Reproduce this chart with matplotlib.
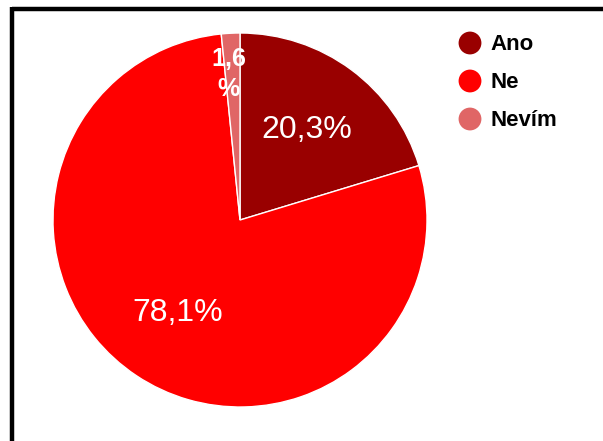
import matplotlib.pyplot as plt
from matplotlib.lines import Line2D

# Data
labels = ["Ano", "Ne", "Nevím"]
shares = [20.3, 78.1, 1.6]
colors = ["#990000", "#ff0000", "#e06666"]

W, H = 603, 441

plt.rcParams["font.family"] = ["Liberation Sans", "DejaVu Sans"]

fig = plt.figure(figsize=(W / 100, H / 100), dpi=100)
ax = fig.add_axes([0, 0, 1, 1])

# frame lines (top and left)
ax.add_line(Line2D([12, W], [H - 9, H - 9], color="black", lw=3.2, solid_capstyle="butt"))
ax.add_line(Line2D([12, 12], [0, H - 7], color="black", lw=3.2, solid_capstyle="butt"))

wedges, texts, autotexts = ax.pie(
    shares,
    colors=colors,
    startangle=90,
    counterclock=False,
    center=(240, H - 220),
    radius=187,
    autopct=lambda p: f"{p:.1f}%".replace(".", ","),
    pctdistance=0.6,
    wedgeprops=dict(edgecolor="white", linewidth=1.0),
    textprops=dict(color="white", fontsize=23),
    frame=True,
)
ax.set_xlim(0, W)
ax.set_ylim(0, H)
ax.set_aspect("equal")
ax.axis("off")

# small slice label sits near the rim, wrapped
small = autotexts[2]
small.set_text(f"{shares[2]:.1f}".replace(".", ",") + "\n%")
small.set_position((229, H - 74))
small.set_fontsize(18)
small.set_fontweight("bold")
small.set_linespacing(1.3)
small.set_horizontalalignment("center")
small.set_verticalalignment("center")

# legend drawn as markers and text
for i, (lab, col) in enumerate(zip(labels, colors)):
    y = H - (43 + 38 * i)
    ax.scatter([470], [y], s=270, color=col, edgecolors="none")
    ax.text(490, y - 1, lab, fontsize=16, fontweight="bold", color="black",
            va="center", ha="left")

fig.savefig("out.png", dpi=100)
